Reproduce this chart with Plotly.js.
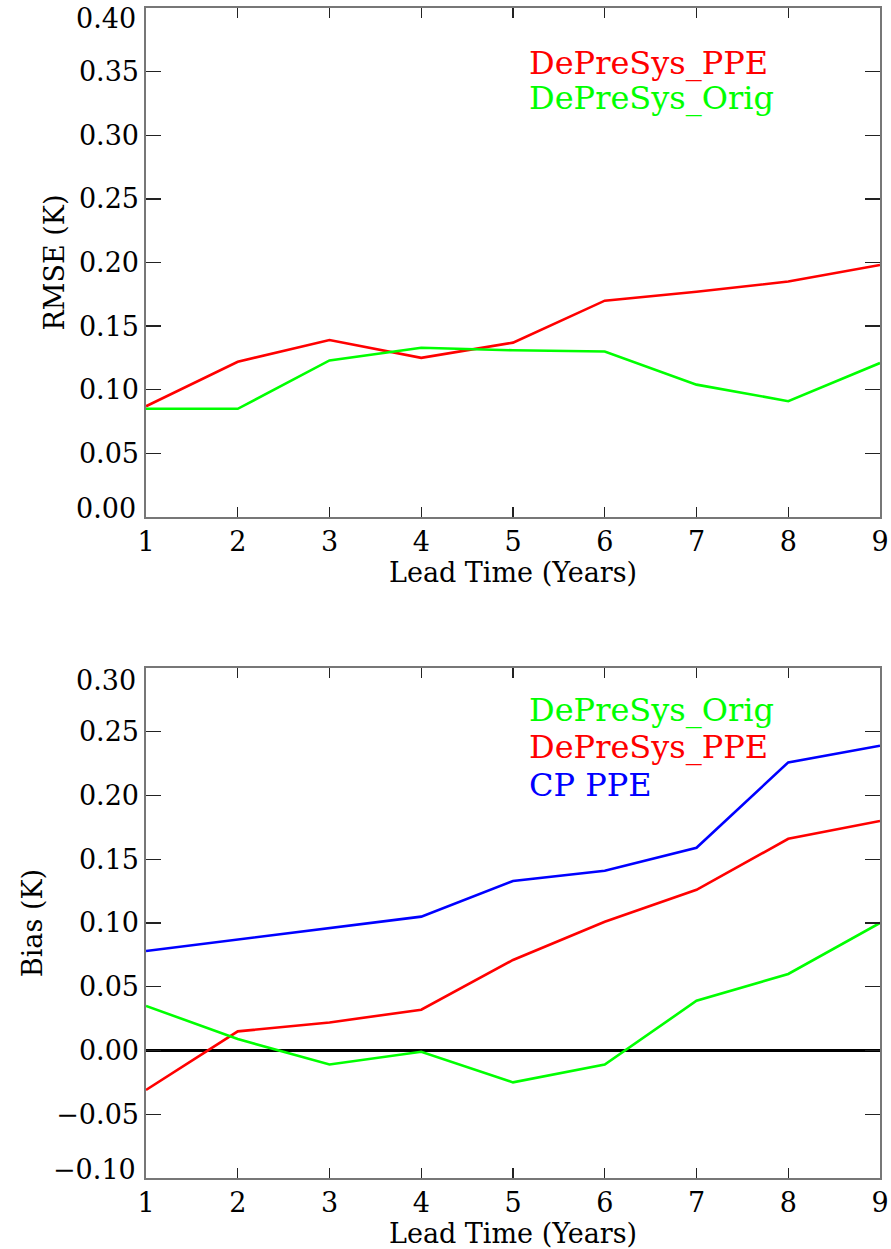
<!DOCTYPE html>
<html>
<head>
<meta charset="utf-8">
<script src="https://cdn.plot.ly/plotly-3.0.1.min.js"></script>
<style>
  html, body { margin: 0; padding: 0; background: #fff; }
  #chart { width: 891px; height: 1249px; }
</style>
</head>
<body>
<div id="chart"></div>
<script>
// Lead times in years
const leadYears = [1, 2, 3, 4, 5, 6, 7, 8, 9];

// RMSE (K) by lead time
const rmsePPE  = [0.087, 0.122, 0.139, 0.125, 0.137, 0.170, 0.177, 0.185, 0.198];
const rmseOrig = [0.085, 0.085, 0.123, 0.133, 0.131, 0.130, 0.104, 0.091, 0.121];

// Bias (K) by lead time
const biasOrig  = [0.035, 0.009, -0.011, -0.001, -0.025, -0.011, 0.039, 0.060, 0.100];
const biasPPE   = [-0.031, 0.015, 0.022, 0.032, 0.071, 0.101, 0.126, 0.166, 0.180];
const biasCPPPE = [0.078, 0.087, 0.096, 0.105, 0.133, 0.141, 0.159, 0.226, 0.239];

// Tick values for the two y axes
const rmseTicks = [0.00, 0.05, 0.10, 0.15, 0.20, 0.25, 0.30, 0.35, 0.40];
const biasTicks = [-0.10, -0.05, 0.00, 0.05, 0.10, 0.15, 0.20, 0.25, 0.30];

// Series names
const nameOrig = 'DePreSys_Orig';
const namePPE  = 'DePreSys_PPE';
const nameCP   = 'CP PPE';

const RED = '#ff0000', GREEN = '#00ff00', BLUE = '#0000ff';
const FONT = 'DejaVu Serif';

const fmt = v => v.toFixed(2).replace('-', '\u2212');

function line(y, color, xa, ya) {
  return { x: leadYears, y: y, type: 'scatter', mode: 'lines',
           line: { color: color, width: 2.6 }, xaxis: xa, yaxis: ya,
           hoverinfo: 'skip', showlegend: false };
}

const data = [
  line(rmsePPE,  RED,   'x',  'y'),
  line(rmseOrig, GREEN, 'x',  'y'),
  line(biasCPPPE, BLUE, 'x2', 'y2'),
  line(biasPPE,   RED,  'x2', 'y2'),
  line(biasOrig,  GREEN,'x2', 'y2')
];

function xAxis(anchor) {
  return {
    anchor: anchor, domain: [0, 1], range: [1, 9],
    tickmode: 'array', tickvals: leadYears, ticktext: leadYears.map(String),
    ticks: 'inside', ticklen: 10, tickwidth: 1.3, tickcolor: '#222',
    showline: true, linecolor: '#777', linewidth: 1.6, mirror: 'ticks',
    showgrid: false, zeroline: false,
    tickfont: { family: FONT, size: 27, color: '#000' },
    title: { text: 'Lead Time (Years)', font: { family: FONT, size: 27, color: '#000' }, standoff: 6 },
    automargin: false
  };
}

// End labels of each y axis sit just inside the frame, so they are drawn
// as separate annotations and left blank on the axis itself.
function yAxis(anchor, domain, range, ticks, title, zero) {
  return {
    anchor: anchor, domain: domain, range: range,
    tickmode: 'array', tickvals: ticks,
    ticktext: ticks.map((v, i) => (i === 0 || i === ticks.length - 1) ? '' : fmt(v)),
    ticks: 'inside', ticklen: 15, tickwidth: 1.3, tickcolor: '#222',
    showline: true, linecolor: '#777', linewidth: 1.6, mirror: 'ticks',
    showgrid: false,
    zeroline: zero, zerolinecolor: '#000', zerolinewidth: 2.4,
    tickfont: { family: FONT, size: 27, color: '#000' },
    title: { text: title, font: { family: FONT, size: 27, color: '#000' }, standoff: 6 },
    automargin: false
  };
}

function endLabel(value, yref, yfrac) {
  return { text: fmt(value), xref: 'paper', yref: yref + ' domain',
           x: -0.0115, y: yfrac, xanchor: 'right', yanchor: 'middle', showarrow: false,
           font: { family: FONT, size: 27, color: '#000' } };
}

function label(text, color, xref, yref, yfrac) {
  return { text: text, xref: xref + ' domain', yref: yref + ' domain',
           x: 0.519, y: yfrac, xanchor: 'left', yanchor: 'middle', showarrow: false,
           font: { family: FONT, size: 32, color: color } };
}

const layout = {
  width: 891, height: 1249,
  margin: { l: 146, r: 11, t: 8, b: 71 },
  paper_bgcolor: '#fff', plot_bgcolor: '#fff',
  showlegend: false,
  xaxis: xAxis('y'),
  yaxis: yAxis('x', [0.565, 1], [0, 0.40], rmseTicks, 'RMSE (K)', false),
  xaxis2: xAxis('y2'),
  yaxis2: yAxis('x2', [0, 0.4359], [-0.10, 0.30], biasTicks, 'Bias (K)', true),
  annotations: [
    endLabel(rmseTicks[rmseTicks.length - 1], 'y', 0.980),
    endLabel(rmseTicks[0], 'y', 0.016),
    endLabel(biasTicks[biasTicks.length - 1], 'y2', 0.976),
    endLabel(biasTicks[0], 'y2', 0.016),
    label(namePPE,  RED,   'x',  'y',  0.892),
    label(nameOrig, GREEN, 'x',  'y',  0.823),
    label(nameOrig, GREEN, 'x2', 'y2', 0.918),
    label(namePPE,  RED,   'x2', 'y2', 0.845),
    label(nameCP,   BLUE,  'x2', 'y2', 0.771)
  ]
};

Plotly.newPlot('chart', data, layout, { staticPlot: true, displayModeBar: false });
</script>
</body>
</html>
